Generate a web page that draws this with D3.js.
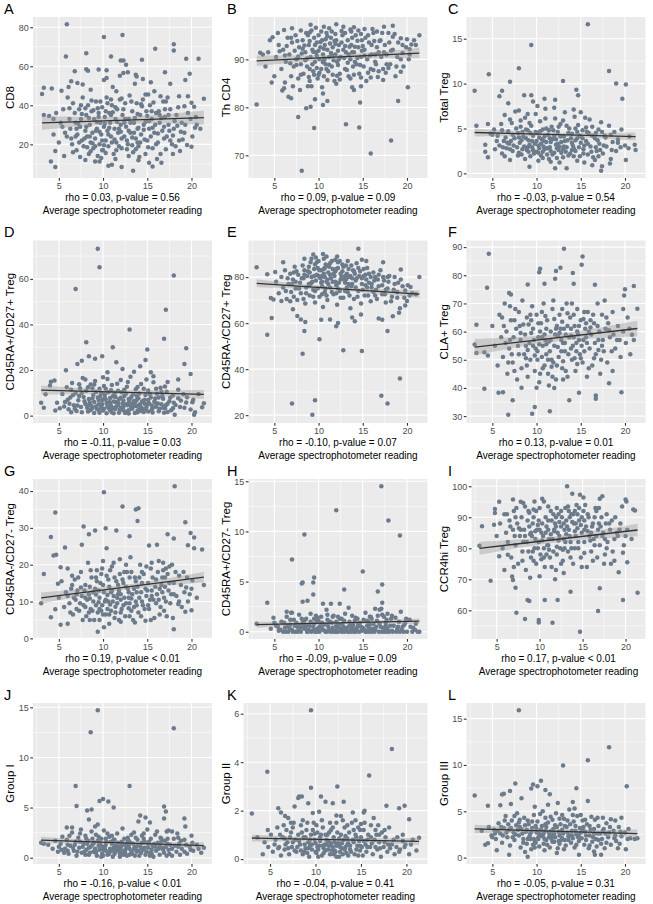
<!DOCTYPE html>
<html><head><meta charset="utf-8">
<script src="https://cdn.jsdelivr.net/npm/d3@7"></script>
<style>body{margin:0;background:#fff}svg{display:block}text{font-family:"Liberation Sans",Arial,sans-serif}</style>
</head><body>
<script>
const panelTags=["A","B","C","D","E","F","G","H","I","J","K","L"];
const yTitles=["CD8","Th CD4","Total Treg","CD45RA+/CD27+ Treg","CD45RA-/CD27+ Treg","CLA+ Treg","CD45RA-/CD27- Treg","CD45RA+/CD27- Treg","CCR4hi Treg","Group I","Group II","Group III"];
const statLabels=["rho = 0.03, p-value = 0.56","rho = 0.09, p-value = 0.09","rho = -0.03, p-value = 0.54","rho = -0.11, p-value = 0.03","rho = -0.10, p-value = 0.07","rho = 0.13, p-value = 0.01","rho = 0.19, p-value < 0.01","rho = -0.09, p-value = 0.09","rho = 0.17, p-value < 0.01","rho = -0.16, p-value < 0.01","rho = -0.04, p-value = 0.41","rho = -0.05, p-value = 0.31"];
const xTitle="Average spectrophotometer reading";
const xTicks=[5,10,15,20];
const yTicks=[[20,40,60,80],[70,80,90],[0,5,10,15],[0,20,40,60],[20,40,60,80],[30,40,50,60,70,80,90],[0,10,20,30,40],[0,5,10,15],[60,70,80,90,100],[0,5,10,15],[0,2,4,6],[0,5,10,15]];
// fitted line value at the lowest and highest reading, CI half-width at centre and at ends
const fitY0=[31.0,89.7,4.55,11.2,77.3,54.5,11.0,0.7,80.0,1.75,0.87,3.1];
const fitY1=[33.7,91.3,4.1,9.3,72.6,61.1,16.6,1.05,85.9,1.2,0.73,2.58];
const bandMid=[1.8,0.5,0.22,1.0,0.8,1.3,0.7,0.14,1.0,0.16,0.07,0.22];
const bandEnd=[3.6,1.1,0.45,2.0,1.7,2.9,1.5,0.3,2.1,0.34,0.15,0.46];

const pointsA=[[5.9,81.5],[10.1,75],[12.2,76],[18.0,71.3],[18.0,68.1],[15.9,69],[5.8,65],[10.9,65],[8.1,66.7],[20.8,63.8],[19.4,63.8],[14.4,63.3],[12.0,63],[12.3,63],[12.6,60.8],[19.8,56.2],[19.3,53],[6.8,57.4],[8.1,58.5],[8.3,57.7],[9.5,58.3],[10.4,58],[11.9,55.2],[12.3,56.5],[12.8,56.9],[13.7,55.7],[13.8,54.8],[14.5,53.5],[15.4,51.8],[17.0,56.9],[17.6,51],[4.2,48.6],[3.1,45.8],[3.3,49],[5.3,47.5],[6.4,52.3],[6.1,49.4],[7.1,51.4],[7.7,50.6],[8.6,48],[10.1,53],[10.4,54],[11.1,49.4],[11.5,47.2],[13.6,51],[14.8,45.5],[15.1,45.5],[15.8,47.2],[16.5,44.6],[17.1,42],[18.6,44.6],[19.6,44.6],[21.4,43.4],[20.0,41.3],[20.3,39.2],[19.2,39.5],
[4.1,11.2],[4.6,8.4],[4.6,16.6],[5.6,14],[9.6,11.2],[9.1,11.2],[10.6,9],[11.0,9.5],[12.1,8.4],[13.4,6.5],[14.0,11.8],[15.2,10.6],[15.6,8.6],[16.6,10.6],[17.9,15],[18.7,16.6],[19.5,19.7],[20.0,18.8],[20.4,28.5],
[3.3,35],[3.9,34.5],[4.4,33],[4.7,36],[5.0,21],[5.2,31],[5.5,38],[5.7,26],[5.9,24],[6.0,44],[6.2,33],[6.3,28],[6.5,20],[6.6,41],[6.8,36],[6.9,31],[7.0,17],[7.1,25],[7.3,38],[7.4,29],[7.5,33],[7.6,22],[7.7,44],[7.8,19],[8.0,27],[8.1,35],[8.2,24],[8.3,40],[8.4,15],[8.5,30],[8.6,21],[8.7,37],[8.8,26],[8.9,18],[9.0,33],[9.1,23],[9.2,42],[9.3,28],[9.4,14],[9.5,36],[9.6,20],[9.7,31],[9.8,25],[9.9,39],[10.0,17],[10.1,29],[10.2,34],[10.3,22],[10.4,44],[10.5,27],[10.6,19],[10.7,36],[10.8,31],[10.9,24],[11.0,40],[11.2,15],[11.3,28],[11.4,33],[11.5,21],[11.6,38],[11.7,26],[11.9,43],[12.0,30],[12.1,18],[12.2,35],[12.4,24],[12.5,41],[12.6,29],[12.8,20],[12.9,33],[13.0,45],[13.1,26],[13.3,37],[13.4,16],[13.5,31],[13.7,23],[13.8,41],[13.9,28],[14.0,19],[14.2,35],[14.3,25],[14.5,43],[14.6,30],[14.8,15],[14.9,37],[15.0,22],[15.2,28],[15.3,40],[15.5,33],[15.6,18],[15.8,26],[16.0,36],[16.2,21],[16.4,31],[16.5,15],[16.7,27],[16.8,42],[17.0,34],[17.2,24],[17.4,30],[17.6,38],[17.8,20],[18.0,28],[18.3,35],[18.6,22],[18.9,31],[19.2,26],[19.6,36],[20.1,24],[20.6,30],[21.0,28],
[7.2,30.5],[7.9,23],[8.4,33.5],[8.8,20.5],[9.2,27],[9.5,34],[9.9,22],[10.2,30.5],[10.6,25],[10.9,35],[11.3,22.5],[11.6,31.5],[12.0,26.5],[12.3,38],[12.7,22],[13.1,31],[13.5,26],[13.9,35.5],[14.2,21],[14.6,27.5],[15.0,34.5],[15.4,24],[15.9,30],[16.3,37],[16.9,23],[17.5,27],[18.1,32],[18.8,26.5],[6.2,38.5],[6.9,24],[7.5,40],[8.2,18.5],[8.7,42.5],[9.4,38.5],[10.1,19.5],[10.5,41],[11.1,36.5],[11.8,19],[12.5,33],[13.2,42],[13.7,17.5],[14.4,39.5],[15.1,18.5],[15.7,41.5],[16.6,33.5],[17.3,44],[18.5,39],[19.9,33],[5.4,29],[6.6,16],[7.4,13.5],[8.0,12],[9.8,13],[11.4,12.5],[12.9,14],[14.1,13.5],[16.1,12.5],[17.1,17.5],[19.0,22.5],[4.4,25],
[7.0,28],[7.6,35.5],[8.1,29],[8.5,24],[8.9,37.5],[9.3,31.5],[9.6,26.5],[9.9,17],[10.3,37],[10.7,28.5],[11.0,21],[11.4,39],[11.8,28],[12.1,23],[12.4,31],[12.9,27],[13.3,19.5],[13.6,33.5],[14.0,28.5],[14.3,40.5],[14.7,22.5],[15.2,32],[15.6,28.5],[16.0,20],[16.4,35],[16.9,29],[17.4,35],[17.9,24.5],[18.4,29.5],[19.3,30],[6.4,23],[7.3,21],[8.0,38.5],[8.6,16.5],[9.1,19],[9.7,42],[10.3,15.5],[10.9,43],[11.5,17],[12.1,43.5],[12.7,17.5],[13.3,23.5],[13.9,21],[14.8,31.5],[15.5,37],[16.2,25.5],[17.0,38],[17.6,22],[18.2,19],[20.5,34]];

const pointsB=[[8.1,66.8],[15.9,70.4],[18.2,73.1],[9.5,75.7],[13.1,76.5],[14.6,75.8],[7.7,78],[3.0,80.6],[8.6,79.8],[9.1,80.1],[10.5,80.5],[11.0,81.3],[9.6,81.7],[14.7,81],[19.0,81.3],[20.1,84.2],[4.7,85.2],[5.9,83.5],[6.1,84],[6.2,85.2],[6.6,82.2],[6.9,81.9],[7.1,84.4],[7.9,83.6],[8.8,84.4],[9.2,84.4],[10.5,82.9],[10.4,84.2],[12.0,84.9],[13.8,84.2],[14.0,83.6],[14.8,84.4],[15.9,86.2],[16.7,86.3],[17.3,85.7],[18.8,88.5],[19.3,87.4],[4.0,88.5],[3.4,91.4],[4.5,94.0],[4.8,94.6],[5.6,91.7],[6.1,96.1],[9.1,97.2],[12.0,97.3],[12.8,96.8],[15.2,96.3],[16.1,96.3],[17.4,96.8],[18.4,97],[18.4,94.7],[19.3,94.4],[20.0,94.2],[20.5,93.1],[21.0,93],[21.4,95],[20.3,92.1],[19.5,91.3],
[5.2,90.5],[5.5,93],[5.8,88],[6.0,92],[6.3,89.5],[6.5,94.5],[6.7,91],[6.9,86.5],[7.0,93.5],[7.2,88.5],[7.4,95],[7.5,90],[7.7,86],[7.8,92.5],[8.0,89],[8.2,94],[8.3,87],[8.5,91.5],[8.6,95.5],[8.7,88.5],[8.9,93],[9.0,85.5],[9.1,90.5],[9.2,96],[9.3,92],[9.4,87.5],[9.5,94.5],[9.6,89.5],[9.7,91.5],[9.8,93.5],[9.9,86],[10.0,95],[10.1,90],[10.2,92.5],[10.3,88],[10.4,94],[10.5,91],[10.6,86.5],[10.7,93],[10.8,89],[10.9,95.5],[11.0,92],[11.1,87.5],[11.2,90.5],[11.4,94.5],[11.5,88.5],[11.6,92.5],[11.8,85.5],[11.9,91],[12.0,94],[12.1,89.5],[12.3,93],[12.4,87],[12.5,90.5],[12.7,95],[12.8,92],[13.0,88],[13.1,91.5],[13.3,94],[13.4,86.5],[13.6,90],[13.7,93],[13.9,88.5],[14.0,91.5],[14.2,95],[14.3,89],[14.5,92.5],[14.6,87],[14.8,90.5],[14.9,94],[15.1,88.5],[15.2,92],[15.4,85.5],[15.5,90],[15.7,93.5],[15.9,88],[16.0,91],[16.2,95.5],[16.4,89.5],[16.6,92.5],[16.8,87.5],[17.0,94],[17.1,90.5],[17.3,88],[17.5,93],[17.7,91],[17.9,95.5],[18.1,89],[18.4,92],[18.7,86.5],[19.0,93.5],[19.3,90],[19.6,88.5],[19.9,92.5],[20.3,91],[5.0,86.5],[4.3,91.5],[3.7,91],[9.0,93.8],[10.6,92.2],[11.3,93.3],[12.2,91.8],[13.5,92.6],[8.4,92.9],[9.8,90.8],[11.7,89.8],[14.4,93.9],
[7.6,93.8],[8.1,91.2],[8.8,95],[9.3,89],[9.6,93],[10.0,91.8],[10.3,95.8],[10.7,90.2],[11.0,94.8],[11.4,91.3],[11.8,93.8],[12.2,88.8],[12.6,93.5],[13.0,95.5],[13.4,91],[13.8,94.5],[14.1,89.5],[14.5,96],[14.9,91.8],[15.3,94.5],[15.8,90.8],[16.3,93.8],[16.8,91.5],[17.2,95.5],[17.7,89],[18.2,91.8],[6.4,92.8],[6.8,89.2],[7.3,91.8],[8.0,86.8],[8.5,89.8],[9.0,88],[9.5,86.8],[10.1,87.2],[10.9,88],[11.6,86.8],[12.4,85.8],[13.2,87.8],[14.0,86.8],[14.7,88.8],[15.6,87.2],[16.5,89],[17.6,87.2],[18.9,90.5],[20.8,94],[5.4,95.5],[7.0,96.5],[8.0,96],[10.6,96.8],[13.6,96.2],[11.2,96.5],
[6.2,90.8],[6.9,94.5],[7.5,88.8],[8.2,92.2],[8.7,90.2],[9.0,95.6],[9.4,91.6],[9.8,88.2],[10.2,93.6],[10.5,89.4],[10.8,94.2],[11.2,88.9],[11.5,95.8],[11.9,93.2],[12.3,90],[12.6,95.9],[13.0,92.8],[13.3,89.3],[13.7,95.8],[14.1,92.6],[14.4,90.3],[14.8,95.3],[15.2,90.8],[15.6,95],[16.0,93],[16.4,91],[16.9,93.8],[17.4,91.5],[18.0,93.5],[18.6,95.3],[19.5,93],[20.2,90],[7.7,90.6],[8.9,86.3],[10.0,86.8],[11.0,85.7],[12.1,86.6],[13.6,86],[14.8,86.2],[16.2,87.8],[17.9,88.2],[9.7,96.6],[11.9,95.3],[14.0,96.7],[16.6,95.8],[12.9,90.3],[11.6,90.8],[10.6,89.8],[13.8,91.5],[15.0,92.8]];

const pointsC=[[15.8,16.6],[9.4,14.3],[8.0,11.7],[4.6,11.05],[18.2,11.4],[13.0,10.3],[7.0,10.2],[19.0,10],[20.1,9.9],[3.0,9.2],[6.1,9.2],[14.5,9.3],[9.4,8.7],[8.6,8.7],[5.8,8.6],[19.7,8.3],[9.6,8.0],[10.9,8.3],[14.7,8.7],[6.8,7.8],[12.1,8.2],[3.2,5.3],[4.5,5.5],[4.2,3.2],[4.2,2.4],[4.5,1.8],[9.2,0.75],[12.1,0.56],[13.4,0.56],[17.4,0.8],[17.3,0.3],[18.4,1.6],[18.3,1.1],[20.1,1.5],[21.1,3.2],[21.2,2.6],[20.5,4.1],[19.2,3.4],[19.5,2.9],[16.3,0.9],
[4.8,4.4],[5.0,4.3],[5.3,2.7],[5.6,4.2],[5.8,3.1],[6.0,5.5],[6.1,2.2],[6.3,3.6],[6.4,6.5],[6.6,2.8],[6.8,4.7],[6.9,3.3],[7.0,1.5],[7.2,5.6],[7.3,2.5],[7.5,3.9],[7.6,6.9],[7.8,2.9],[7.9,4.5],[8.1,3.4],[8.2,5.9],[8.3,2.1],[8.5,4.1],[8.6,3.0],[8.7,6.2],[8.9,2.6],[9.0,4.8],[9.1,3.7],[9.3,1.9],[9.4,5.3],[9.5,2.9],[9.6,4.2],[9.8,3.3],[9.9,6.6],[10.0,2.4],[10.1,4.5],[10.2,3.1],[10.4,5.8],[10.5,2.0],[10.6,3.8],[10.7,4.9],[10.9,2.7],[11.0,7.2],[11.1,3.5],[11.3,4.3],[11.4,1.6],[11.5,2.9],[11.7,5.2],[11.8,3.8],[12.0,2.3],[12.1,6.1],[12.2,3.2],[12.4,4.6],[12.5,2.6],[12.7,5.5],[12.8,3.5],[13.0,1.8],[13.1,4.1],[13.2,6.8],[13.4,2.9],[13.5,3.7],[13.7,5.0],[13.8,2.2],[14.0,4.4],[14.1,3.1],[14.3,6.3],[14.4,2.5],[14.6,3.9],[14.7,5.4],[14.9,1.9],[15.0,3.4],[15.2,4.8],[15.3,2.7],[15.5,6.2],[15.6,3.6],[15.8,2.1],[15.9,4.5],[16.1,3.0],[16.3,5.2],[16.4,1.8],[16.6,3.9],[16.8,2.5],[17.0,4.9],[17.1,3.3],[17.3,5.7],[17.5,2.2],[17.7,4.2],[17.9,3.0],[18.2,5.3],[18.5,2.6],[18.8,4.6],[19.2,3.8],[19.6,4.9],[20.0,3.1],[20.4,2.8],[9.7,2.2],[10.8,3.0],[11.6,2.5],[12.6,3.0],[13.3,2.4],[8.4,2.7],[9.2,3.2],[10.3,2.8],[11.2,2.1],[12.3,1.7],[14.2,2.8],[7.4,3.1],
[6.5,4.0],[7.1,3.6],[7.7,5.0],[8.0,2.3],[8.4,4.6],[8.8,3.9],[9.2,5.6],[9.6,2.6],[10.0,3.6],[10.3,4.0],[10.7,2.4],[11.1,5.0],[11.5,3.9],[11.9,4.8],[12.3,2.8],[12.7,4.1],[13.1,3.0],[13.6,4.5],[14.0,3.4],[14.4,5.0],[14.8,2.9],[15.2,3.9],[15.7,4.6],[16.2,2.4],[16.7,4.5],[17.2,2.6],[17.8,4.0],[18.6,3.5],[5.5,3.6],[6.2,2.9],[7.0,6.0],[8.0,7.0],[9.0,6.6],[10.1,7.5],[11.0,6.1],[12.0,7.3],[13.0,5.9],[14.2,7.1],[15.0,6.8],[16.0,6.0],[11.6,1.3],[12.6,1.2],[14.6,1.4],[15.4,1.2],[10.2,1.4],[8.7,1.6],[16.6,1.5],[17.0,1.9],[6.4,1.9],[5.2,4.9],
[6.7,3.4],[7.3,4.3],[7.9,2.0],[8.3,3.7],[8.8,4.9],[9.1,2.4],[9.5,3.6],[9.9,4.6],[10.2,2.3],[10.5,3.3],[10.9,4.1],[11.2,2.8],[11.6,3.5],[12.0,4.2],[12.4,3.3],[12.8,2.3],[13.2,3.6],[13.6,2.0],[14.0,2.6],[14.4,3.7],[14.9,4.2],[15.3,2.2],[15.8,3.3],[16.3,4.2],[16.9,3.7],[17.6,3.1],[18.4,4.3],[6.1,4.8],[7.0,2.7],[8.2,5.2],[9.3,4.5],[10.4,4.7],[11.4,4.8],[12.5,5.2],[13.4,5.3],[14.6,4.6],[15.6,5.1],[10.7,1.7],[11.8,2.1],[13.0,2.7],[14.2,1.9],[9.0,2.9],[8.0,4.0],[12.2,3.8],[13.9,3.9],[10.8,3.6],[15.4,3.1],[16.7,2.9],[17.4,4.6],[19.0,2.5]];

const pointsD=[[9.4,73.2],[9.6,65.1],[18.0,61.5],[6.9,55.6],[17.1,46.5],[13.0,37.8],[16.9,33.7],[8.1,32.2],[11.1,30],[19.4,29.6],[15.0,29],[8.4,26],[9.9,26],[9.1,24.9],[7.6,24.1],[14.8,24.4],[19.2,22.7],[7.1,22.7],[19.9,18.3],[11.5,23.4],[14.2,21.7],[12.2,20.5],[5.8,19.9],[18.5,15.8],[4.1,14.9],[4.5,15.4],[4.0,13.2],[3.0,5.6],[3.3,3.5],[4.6,2.2],[20.4,1.5],[20.3,0.4],[18.1,0.4],[21.4,5.4],[21.2,3.7],[20.1,5.9],[15.4,19],[15.7,17.3],[13.5,19.3],[10.5,19],
[4.8,5.6],[5.1,3.2],[5.4,9.5],[5.7,6.0],[5.9,12.5],[6.1,2.8],[6.3,7.9],[6.5,14.3],[6.7,4.6],[6.9,9.8],[7.0,2.0],[7.2,6.7],[7.4,12.0],[7.5,3.8],[7.7,16.5],[7.8,8.2],[8.0,5.1],[8.1,10.9],[8.3,1.8],[8.4,7.3],[8.6,13.6],[8.7,4.2],[8.9,9.1],[9.0,6.0],[9.1,15.2],[9.3,2.9],[9.4,8.0],[9.6,11.8],[9.7,4.9],[9.9,6.8],[10.0,2.2],[10.1,13.0],[10.2,9.3],[10.4,5.5],[10.5,16.1],[10.6,3.4],[10.8,7.7],[10.9,11.1],[11.0,1.5],[11.2,6.2],[11.3,9.8],[11.5,4.0],[11.6,14.0],[11.8,7.2],[11.9,2.6],[12.1,10.3],[12.2,5.3],[12.4,8.6],[12.5,1.2],[12.7,12.7],[12.8,4.5],[13.0,6.9],[13.1,17.0],[13.3,3.0],[13.4,9.4],[13.6,5.8],[13.7,11.6],[13.9,2.1],[14.0,7.6],[14.2,4.3],[14.3,13.9],[14.5,6.4],[14.6,1.6],[14.8,9.1],[14.9,3.6],[15.1,11.0],[15.2,5.4],[15.4,7.9],[15.5,2.5],[15.7,14.6],[15.8,6.1],[16.0,3.9],[16.1,9.6],[16.3,1.9],[16.5,12.2],[16.6,5.0],[16.8,7.4],[17.0,3.2],[17.2,10.5],[17.3,14.8],[17.5,6.3],[17.7,2.4],[17.9,8.8],[18.2,4.7],[18.5,11.4],[18.8,6.6],[19.2,3.5],[19.5,8.1],[19.9,2.7],[20.2,7.0],[20.8,9.5],[3.5,9.4],[9.8,3.6],[10.7,5.9],[11.4,2.9],[12.3,3.8],[13.2,5.1],[14.1,2.7],[8.8,3.3],[9.5,5.0],[11.7,4.8],[12.9,2.3],[13.8,4.1],[14.7,5.2],
[6.0,7.0],[6.6,9.0],[7.1,4.4],[7.6,10.0],[8.2,3.4],[8.5,5.8],[8.8,11.9],[9.2,4.0],[9.5,6.9],[9.8,9.9],[10.1,3.0],[10.3,7.1],[10.6,10.3],[10.9,4.3],[11.1,8.5],[11.4,6.0],[11.7,10.9],[12.0,3.5],[12.3,6.6],[12.6,9.6],[12.9,5.5],[13.2,8.2],[13.5,4.2],[13.8,6.9],[14.1,9.7],[14.4,3.2],[14.7,7.0],[15.0,4.9],[15.3,9.4],[15.6,3.3],[15.9,7.5],[16.2,5.3],[16.7,8.7],[17.1,4.5],[17.6,7.9],[18.0,5.7],[18.7,3.8],[19.4,5.8],[6.4,11.3],[7.3,13.8],[8.0,15.8],[9.0,13.6],[10.0,16.8],[11.0,13.4],[12.0,15.6],[12.8,14.8],[13.9,12.6],[14.9,15.8],[16.0,11.8],[17.0,12.8],[11.2,1.0],[12.7,1.8],[13.6,1.2],[14.3,2.0],[10.8,2.3],[9.6,1.3],[15.1,1.8],[16.4,3.0],[17.3,1.6],[8.6,2.5],
[5.6,4.0],[6.2,5.2],[6.8,3.0],[7.3,8.6],[7.9,6.3],[8.4,4.5],[8.8,7.5],[9.2,10.4],[9.5,2.5],[9.9,5.0],[10.2,7.8],[10.5,4.1],[10.8,5.8],[11.1,3.3],[11.4,8.2],[11.7,5.6],[12.0,7.8],[12.3,2.2],[12.6,5.0],[12.9,7.3],[13.2,3.6],[13.5,6.4],[13.8,8.7],[14.1,4.9],[14.4,6.1],[14.8,2.9],[15.1,6.8],[15.5,4.4],[15.9,5.7],[16.3,8.0],[16.8,3.5],[17.3,5.2],[17.9,3.2],[18.5,7.6],[19.1,9.4],[6.4,1.5],[7.6,1.5],[9.0,1.1],[10.4,1.0],[11.8,1.3],[12.9,0.9],[13.9,1.5],[15.6,1.4],[16.9,1.3],[8.3,12.5],[10.3,11.8],[12.4,11.4],[14.6,11.8],[16.6,10.5],[9.7,8.6]];

const pointsE=[[9.3,20.2],[9.6,26.5],[7.0,25.1],[17.1,28.4],[17.8,25.1],[19.2,35.9],[8.2,46.7],[12.8,48.2],[14.9,47.9],[10.1,53],[4.2,55],[17.8,56.6],[8.4,56.6],[4.7,62.2],[8.0,61.6],[8.5,60.5],[10.3,61.5],[12.0,58.6],[12.2,60],[11.3,61.6],[13.8,62.4],[14.1,60.8],[14.8,63.7],[16.8,62],[17.2,61.5],[18.4,63],[19.2,66.5],[19.1,64.5],[14.5,92.3],[9.4,89.8],[14.9,87.5],[15.4,87],[17.3,86.5],[3.0,84.3],[4.2,81.2],[5.1,82.2],[6.0,86.5],[19.3,83.3],[21.4,80],[20.4,75.7],[19.8,74.2],[4.6,70.9],[4.9,70.3],[5.8,69.6],[6.8,69.5],[7.1,66],[7.6,63.1],[20.0,69.6],[19.8,67.7],
[5.2,78],[5.5,73],[5.8,80],[6.0,75.5],[6.2,83],[6.4,70.5],[6.6,77],[6.8,81.5],[6.9,73.5],[7.1,79],[7.3,84.5],[7.4,75],[7.6,70],[7.7,81],[7.9,77.5],[8.0,73],[8.2,85],[8.3,79.5],[8.5,68.5],[8.6,75.5],[8.8,82.5],[8.9,77],[9.0,72],[9.1,86.5],[9.2,80],[9.4,74.5],[9.5,83.5],[9.6,69],[9.7,78.5],[9.8,81],[9.9,75],[10.0,87],[10.1,71.5],[10.2,79.5],[10.3,83],[10.4,76],[10.5,67],[10.6,81.5],[10.7,73.5],[10.8,85.5],[10.9,78],[11.0,70],[11.1,82],[11.3,75.5],[11.4,79.5],[11.5,87],[11.7,72.5],[11.8,80.5],[12.0,76.5],[12.1,68],[12.2,84],[12.4,74],[12.5,79],[12.7,82.5],[12.8,71],[13.0,77.5],[13.1,85],[13.3,73.5],[13.4,80],[13.6,66.5],[13.7,76],[13.9,83],[14.0,70.5],[14.2,78.5],[14.3,86],[14.5,74],[14.6,80.5],[14.8,68.5],[14.9,77],[15.1,83.5],[15.2,72],[15.4,79],[15.5,75.5],[15.7,81.5],[15.9,69.5],[16.0,77],[16.2,73.5],[16.4,80],[16.6,70.5],[16.8,76],[17.0,83],[17.2,72.5],[17.4,78.5],[17.6,69],[17.8,75],[18.0,80.5],[18.3,71.5],[18.6,77],[18.9,73.5],[19.3,79],[19.7,71],[20.1,76.5],[20.6,73],[21.0,72.5],[9.0,82],[9.9,84],[10.6,83.5],[11.2,84.5],[11.9,82.5],[12.6,80],[13.2,81.5],[10.4,80.5],[11.6,78],[12.9,79],[13.8,79.5],[8.4,83],
[7.0,77],[7.5,82.5],[8.1,79.5],[8.7,80.5],[9.3,78],[9.6,85.5],[10.0,80.5],[10.3,77.5],[10.7,84],[11.0,79],[11.3,86],[11.7,81.5],[12.0,83.5],[12.3,77.5],[12.7,85.5],[13.0,80.5],[13.4,83.5],[13.8,77],[14.1,81.5],[14.5,84],[14.9,79.5],[15.3,81],[15.7,77.5],[16.2,82],[16.7,79],[17.2,76.5],[17.8,80],[18.5,74.5],[19.0,77.5],[6.3,74],[7.2,71.5],[8.3,70.5],[9.4,71.5],[10.4,72.5],[11.5,73.5],[12.5,71],[13.5,72],[14.4,71.5],[15.6,72],[16.5,74.5],[17.5,72.5],[18.2,69.5],[9.0,76.5],[10.8,75],[12.2,75],[13.2,75.5],[15.0,74.5],[16.0,75.5],[8.4,88],[9.7,88.5],[10.6,88],[11.9,87.5],[13.3,87],[10.5,90],[12.1,89],
[6.5,79.5],[7.2,82],[7.8,75],[8.4,81],[8.9,84.5],[9.2,77.5],[9.5,80.5],[9.8,86.5],[10.1,83],[10.4,78],[10.7,80],[11.0,85],[11.3,81],[11.6,83.5],[11.9,78],[12.2,86.5],[12.5,81.5],[12.8,84.5],[13.1,79],[13.4,77],[13.7,85],[14.0,82.5],[14.3,79.5],[14.7,82.5],[15.1,80.5],[15.5,84],[15.9,80],[16.3,78.5],[16.8,81],[17.3,80],[17.9,78],[18.6,80],[19.5,76],[7.4,78],[8.6,73],[9.6,74],[10.9,72],[12.0,73],[13.0,74],[14.2,75.5],[15.3,76.5],[16.4,72],[17.6,74.5],[18.9,71],[20.3,72],[9.2,88],[10.9,89],[12.4,87],[11.1,77],[13.6,80.5]];

const pointsF=[[13.1,89.4],[4.6,87.6],[15.2,86.7],[15.1,83.7],[10.4,82.3],[12.7,82.7],[12.2,81.5],[10.3,81.1],[14.1,80.8],[12.1,78.8],[4.4,75.6],[20.0,75],[21.0,76.2],[19.9,72.8],[16.6,76.6],[10.9,77],[14.2,77],[9.0,76.7],[6.9,73.7],[7.1,73.2],[3.2,62.4],[3.0,55.4],[3.2,52.4],[4.1,52.7],[4.5,51.5],[4.1,39.7],[5.7,38.3],[6.2,38.5],[6.8,30.5],[9.5,30.8],[9.8,33.2],[11.5,31.7],[7.3,35.6],[8.3,40.1],[10.0,40.1],[11.4,40.9],[13.7,35.6],[14.8,38.3],[16.7,37.3],[16.7,36.2],[18.2,41.7],[19.6,38.5],[20.8,58.9],[21.4,68.1],
[5.0,62],[5.3,55],[5.6,48],[5.8,66],[6.0,58],[6.2,51],[6.4,70],[6.6,60],[6.7,45],[6.9,54],[7.1,64],[7.3,49],[7.4,58],[7.6,68],[7.8,43],[7.9,55],[8.1,62],[8.3,47],[8.4,71],[8.6,52],[8.7,59],[8.9,65],[9.0,44],[9.2,56],[9.3,50],[9.5,69],[9.6,61],[9.8,46],[9.9,54],[10.0,66],[10.2,58],[10.3,42],[10.5,63],[10.6,51],[10.8,70],[10.9,48],[11.0,57],[11.2,64],[11.3,45],[11.5,53],[11.6,60],[11.8,68],[11.9,49],[12.0,55],[12.2,43],[12.3,62],[12.5,51],[12.6,66],[12.8,57],[12.9,47],[13.1,61],[13.2,53],[13.4,70],[13.5,44],[13.7,58],[13.8,65],[14.0,50],[14.1,55],[14.3,62],[14.4,46],[14.6,68],[14.7,59],[14.9,52],[15.0,64],[15.2,49],[15.3,57],[15.5,61],[15.7,44],[15.8,67],[16.0,54],[16.2,59],[16.3,48],[16.5,63],[16.7,52],[16.9,70],[17.0,57],[17.2,45],[17.4,66],[17.6,53],[17.8,61],[18.0,49],[18.3,58],[18.6,67],[18.9,54],[19.2,62],[19.5,51],[19.8,68],[20.1,56],[20.5,61],[21.0,57],[9.4,59.5],[10.7,47],[11.1,52],[12.4,58.5],[13.0,49.5],[14.5,56],[15.4,53],[10.1,50],[11.7,47.5],[8.8,50.5],
[6.5,56],[7.2,52],[7.7,61],[8.2,57],[8.8,55],[9.1,62.5],[9.7,57],[10.1,53],[10.4,60],[10.7,55],[11.1,61],[11.4,56.5],[11.7,50],[12.1,59],[12.4,54.5],[12.7,61],[13.0,56],[13.3,59],[13.6,52],[13.9,61],[14.2,58],[14.5,53],[14.8,62],[15.1,55],[15.6,58],[16.1,61.5],[16.6,56],[17.1,60],[17.5,57],[18.1,63],[18.7,59],[19.4,57],[20.3,65],[6.1,65],[7.0,69],[8.0,67],[9.3,66],[10.6,67],[11.9,71],[12.9,68],[14.0,70],[15.4,67],[16.4,66],[17.7,71],[7.5,46],[8.9,48],[10.4,45],[11.8,44],[13.3,46],[14.6,48.5],[15.9,47],[17.3,50],[18.6,46],[12.0,40],[13.0,43],
[6.3,62],[6.8,49],[7.5,64],[8.0,52],[8.5,62.5],[9.0,53.5],[9.4,64],[9.8,51.5],[10.2,63],[10.6,58],[11.0,65.5],[11.3,50],[11.6,57],[12.0,64.5],[12.3,48],[12.6,59.5],[12.9,63.5],[13.2,56],[13.5,62],[13.9,54],[14.2,66],[14.6,60],[15.0,50.5],[15.3,64.5],[15.7,56],[16.1,64],[16.5,50.5],[16.9,62],[17.4,55],[17.9,65],[18.5,53],[19.1,57],[19.8,60],[8.2,59.5],[9.6,55],[10.9,59],[12.2,61],[13.5,66.5],[14.8,57],[15.9,60],[17.0,53.5],[18.2,60.5],[20.6,52],[7.0,57],[11.1,55.5],[12.8,53],[14.3,50.5],[10.3,55.5],[13.9,58.5],[15.6,63]];

const pointsG=[[18.1,41.3],[10.1,39.7],[12.2,35.8],[13.7,35],[14.0,35.3],[4.6,34.2],[13.9,31.9],[19.3,31.5],[7.8,30.4],[9.1,29.3],[10.3,29.9],[11.5,29.3],[19.9,28.6],[13.0,27.7],[4.1,27.5],[17.3,28.3],[18.0,27.1],[20.3,27.4],[8.4,28.3],[7.6,25.4],[5.7,24.7],[10.4,24.5],[19.6,25.3],[21.2,24.1],[20.3,24.5],[4.4,22.5],[4.7,22.7],[16.1,25.4],[15.2,25.2],[3.3,17.5],[3.0,9.5],[4.1,5.7],[5.2,3.7],[6.0,4.0],[9.4,1.8],[10.1,3.0],[18.0,2.5],[4.6,7.9],[4.9,14.8],[5.2,19.3],[21.4,14.5],[19.3,7.2],[20.0,7.6],[18.5,9.3],[20.1,15.7],[19.4,13.8],
[5.0,11],[5.3,15.5],[5.6,8.5],[5.8,12.5],[6.0,19],[6.2,9.5],[6.4,13.5],[6.6,6.5],[6.8,16],[6.9,10.5],[7.1,13],[7.3,7.5],[7.5,18],[7.6,11.5],[7.8,9],[8.0,14.5],[8.1,6],[8.3,20.5],[8.4,12],[8.6,8],[8.7,16.5],[8.9,10],[9.0,5],[9.1,13.5],[9.3,18.5],[9.4,7],[9.6,11],[9.7,15],[9.9,9],[10.0,21],[10.1,12.5],[10.3,6.5],[10.4,17],[10.6,10],[10.7,14],[10.9,7.5],[11.0,19.5],[11.2,11.5],[11.3,5.5],[11.5,15.5],[11.6,9.5],[11.8,13],[11.9,21.5],[12.1,8],[12.2,16],[12.4,11],[12.5,6],[12.7,18],[12.8,13.5],[13.0,9.5],[13.1,22],[13.3,12],[13.4,5],[13.6,16.5],[13.7,10],[13.9,14],[14.0,7],[14.2,20],[14.3,12.5],[14.5,9],[14.6,17.5],[14.8,4.8],[14.9,11.5],[15.1,15],[15.2,8],[15.4,19],[15.5,13],[15.7,10.5],[15.8,5.5],[16.0,16],[16.1,12],[16.3,21],[16.5,8.5],[16.6,14.5],[16.8,18.5],[16.9,11],[17.0,16.5],[17.1,19],[17.2,6],[17.4,13],[17.6,9.5],[17.8,20],[18.0,15],[18.3,11.5],[18.6,17],[18.9,8.5],[19.2,12.5],[19.6,10],[20.0,13.5],[20.6,11],[9.5,9.8],[10.5,11.8],[11.4,8.6],[12.0,10.5],[12.9,8.2],[8.5,10.8],[9.2,11.9],[10.8,9.2],[11.7,12],[13.2,10.8],
[7.0,12],[7.4,9.5],[7.9,13],[8.2,10.5],[8.5,14],[8.8,7.5],[9.2,9],[9.5,13],[9.8,7.5],[10.2,10],[10.5,8],[10.9,12.5],[11.1,10],[11.4,7],[11.7,14.5],[12.0,12],[12.3,9],[12.6,14],[12.9,11],[13.2,7.5],[13.5,13.5],[13.8,9],[14.1,11],[14.4,15],[14.7,8],[15.0,13],[15.3,10.5],[15.6,16.5],[16.0,9.5],[16.4,13.5],[16.7,16.5],[17.0,14],[17.3,17.5],[17.7,12],[18.2,18],[18.8,14.5],[19.5,16.5],[6.3,7],[6.7,11],[8.0,8.5],[9.3,15.5],[10.6,16],[11.9,17.5],[13.0,16.5],[14.4,18],[15.5,20.5],[16.8,20.5],[7.7,5],[9.6,5],[10.7,4],[12.0,4.5],[13.6,4.3],[15.4,5],[16.4,6.5],[17.9,5.5],[11.2,20.5],[12.6,20],[8.6,18.5],[9.9,19],[6.5,17],
[6.0,11.5],[6.5,14.5],[7.0,8],[7.5,13.8],[8.0,11],[8.4,7],[8.9,12.5],[9.2,16.5],[9.6,8],[10.0,14.5],[10.3,10.5],[10.7,6.5],[11.0,13],[11.3,16.5],[11.6,11],[12.0,7],[12.3,15],[12.6,9.5],[12.9,12.5],[13.2,18],[13.5,8.5],[13.8,12.5],[14.1,16.5],[14.4,10],[14.8,13.5],[15.1,9],[15.5,11.5],[15.9,14],[16.3,10.5],[16.7,12.5],[17.1,10],[17.5,15],[18.0,12],[18.6,10],[19.1,18],[19.8,12],[7.2,16.5],[8.5,5],[9.8,17.5],[10.8,18.5],[12.4,18],[13.7,15.5],[14.9,19.5],[16.2,18],[17.5,19.5],[11.8,5],[13.0,6],[14.3,6],[10.0,6.5],[16.9,7.5]];

const pointsH=[[17.1,14.5],[12.0,12.1],[17.9,11.1],[19.2,9.6],[8.4,9.7],[7.0,7.2],[15.0,6.0],[9.5,5.4],[9.4,4.9],[8.2,4.9],[8.1,4.8],[17.2,4.7],[16.7,4.0],[12.9,4.2],[4.2,2.9],[8.75,3.1],[9.4,3.7],[10.5,2.8],[12.4,2.8],[13.4,2.4],[17.2,2.9],[17.1,2.3],[16.4,2.3],[17.8,1.8],[8.2,3.0],[6.4,2.0],[7.0,1.9],[10.9,2.2],[11.6,1.5],[15.8,1.5],
[3.0,0.8],[4.6,0.3],[4.9,1.4],[5.2,0.6],[5.5,0.1],[5.8,1.0],[6.0,0],[6.2,0.4],[6.4,1.5],[6.6,0],[6.8,0.7],[7.0,0.2],[7.2,1.2],[7.4,0],[7.6,0.5],[7.8,1.7],[8.0,0],[8.2,0.9],[8.4,0.3],[8.6,1.3],[8.8,0],[9.0,0.6],[9.1,1.8],[9.3,0.1],[9.5,0.8],[9.6,0],[9.8,1.1],[10.0,0.4],[10.1,0],[10.3,1.5],[10.5,0.2],[10.6,0.7],[10.8,0],[11.0,1.2],[11.1,0.5],[11.3,0],[11.5,0.9],[11.7,1.6],[11.8,0.1],[12.0,0.6],[12.2,0],[12.4,1.3],[12.5,0.3],[12.7,0.8],[12.9,0],[13.0,1.8],[13.2,0.4],[13.4,0],[13.5,1.0],[13.7,0.2],[13.9,0.7],[14.0,0],[14.2,1.4],[14.4,0.5],[14.6,0],[14.7,0.9],[14.9,0.1],[15.1,1.2],[15.3,0],[15.5,0.6],[15.7,0.3],[15.9,1.5],[16.0,0],[16.2,0.8],[16.4,0.2],[16.6,1.1],[16.8,0],[17.0,0.5],[17.2,1.7],[17.4,0],[17.6,0.9],[17.8,0.3],[18.0,0],[18.2,1.3],[18.5,0.6],[18.8,0],[19.1,1.0],[19.4,0.2],[19.7,0.7],[20.0,0],[20.3,1.2],[20.7,0.4],[21.2,0],[21.4,0],[5.0,0.9],[6.9,1.9],[9.7,1.6],[11.4,2.8],[16.9,2.2],[15.3,1.9],[18.3,1.6],[19.3,2.0],[19.9,1.3],[9.9,0.3],[10.4,0.9],[11.2,0.2],[12.1,0.4],[12.8,0.1],[13.6,0.5],[14.3,0.2],[8.5,0.4],[7.9,0.6],[15.0,0.4],[16.1,0.3],[17.5,0.2],
[5.4,0.5],[6.1,0.9],[6.7,0.3],[7.3,0.6],[7.7,0.1],[8.3,0.7],[8.9,0.2],[9.4,0.5],[10.2,0.6],[10.7,0.1],[11.6,0.4],[12.3,0.7],[13.1,0.2],[13.8,0.4],[14.5,0.8],[15.2,0.2],[15.8,0.7],[16.5,0.5],[17.3,0.4],[18.1,0.6],[18.9,0.3],[19.6,0],[20.4,0.5],[21.0,0.8],[6.3,0],[7.1,0],[8.7,0],[9.2,0],[10.9,0],[11.9,0],[12.6,0],[13.3,0],[15.4,0],[16.3,0],[17.1,0],[18.4,0],[19.2,0],[20.6,0],[10.0,1.1],[11.3,1.0],[12.9,1.1],[14.1,1.1],[15.6,1.0],[17.7,1.2],[8.1,1.3],[9.9,1.4],[12.2,1.5],[13.8,1.6],[16.7,1.6],[18.7,1.4],
[5.7,0.2],[6.5,0.6],[7.5,0.9],[8.0,0.4],[8.6,0.6],[9.1,1.0],[9.7,0.2],[10.4,0.3],[11.0,0.7],[11.6,0.1],[12.0,1.0],[12.8,0.5],[13.5,0.6],[14.1,0.3],[14.8,0.5],[15.5,1.1],[16.2,0.1],[16.9,0.8],[17.6,0.6],[18.3,0.1],[19.0,0.5],[19.8,0.9],[6.8,1.2],[8.4,1.1],[9.5,1.3],[11.0,1.7],[12.6,1.3],[14.4,1.3],[16.0,1.3],[17.4,1.5],[7.6,0],[9.8,0],[11.6,0],[12.0,0],[13.7,0],[14.2,0],[15.7,0],[17.7,0],[19.5,0.5],[20.9,0.2]];

const pointsI=[[13.2,100],[14.7,53.1],[11.5,56],[9.9,56.9],[9.9,56.1],[8.3,57.2],[7.3,59.2],[16.8,59.8],[19.7,63.3],[8.6,63.3],[8.8,63],[10.6,63.3],[12.1,63.3],[13.6,66],[17.0,67.1],[21.4,65.7],[7.2,67.3],[4.3,69.5],[6.8,70.9],[6.9,69.8],[19.2,72.3],[20.2,75.5],[18.3,75],[19.7,78.6],[3.0,80.8],[3.3,87.1],[4.7,87.6],[4.8,91.4],[4.8,92.7],[5.3,95],[6.9,95.7],[7.8,95],[8.1,94.6],[9.4,95.1],[10.3,96],[10.5,95.1],[13.8,97.6],[14.7,97.3],[15.1,96.4],[17.3,96.8],[17.0,96],[20.0,95.7],[20.1,95.1],[20.9,92.5],[19.6,93.5],[5.3,77.4],[5.9,73],[6.3,77.9],[21.1,92.2],
[5.0,84],[5.4,88],[5.7,80],[5.9,91],[6.1,85],[6.3,82],[6.5,89],[6.7,77],[6.9,86],[7.0,92],[7.2,81],[7.4,88],[7.5,75],[7.7,84],[7.9,90],[8.0,79],[8.2,86],[8.4,73],[8.5,82],[8.7,92],[8.8,87],[9.0,77],[9.1,84],[9.3,90],[9.4,80],[9.6,75],[9.7,86],[9.9,82],[10.0,93],[10.1,78],[10.3,88],[10.4,84],[10.6,74],[10.7,90],[10.9,81],[11.0,86],[11.2,77],[11.3,92],[11.5,83],[11.6,79],[11.8,88],[11.9,73],[12.1,85],[12.2,91],[12.4,80],[12.5,87],[12.7,76],[12.8,83],[13.0,93],[13.1,89],[13.3,79],[13.4,86],[13.6,82],[13.7,91],[13.9,75],[14.0,88],[14.2,84],[14.3,94],[14.5,80],[14.6,89],[14.8,77],[14.9,85],[15.1,92],[15.2,82],[15.4,87],[15.5,74],[15.7,90],[15.8,84],[16.0,79],[16.2,88],[16.3,83],[16.5,93],[16.7,77],[16.8,86],[17.0,81],[17.2,90],[17.3,84],[17.5,75],[17.7,88],[17.9,82],[18.2,86],[18.5,79],[18.8,90],[19.1,84],[19.4,88],[19.8,81],[20.2,86],[20.7,83],[9.2,79],[10.2,76.5],[11.1,79.5],[12.3,88.5],[13.5,90],[14.4,86.5],[9.8,87.5],[8.9,84.5],[11.7,85.5],[12.9,86],
[7.1,84],[7.6,86.5],[8.1,82],[8.6,89],[9.0,85],[9.5,83],[9.9,89],[10.2,85],[10.5,80],[10.8,87],[11.1,83],[11.4,89],[11.7,86],[12.0,80.5],[12.3,84],[12.6,90],[12.9,80],[13.2,87],[13.5,84],[13.9,91],[14.2,88],[14.5,82],[14.9,90],[15.2,86],[15.6,91],[16.0,85],[16.4,90],[16.9,88],[17.4,85],[17.8,91],[18.4,89],[19.0,85],[6.2,91],[7.3,93],[8.3,93.5],[9.3,92.5],[11.0,93.5],[12.0,93],[13.3,93.5],[14.1,92],[15.3,94],[16.6,92],[7.0,74],[8.0,76],[9.3,76],[10.5,77],[11.4,74],[12.5,75],[13.6,77],[14.9,74],[16.2,76],[17.6,78],[18.7,76],[10.0,71],[11.8,70],[12.8,72],[8.9,70.5],
[6.6,87],[7.2,90],[7.8,86],[8.3,84],[8.8,91.5],[9.2,88],[9.6,92],[10.0,86],[10.3,82.5],[10.7,85],[11.0,89],[11.3,84.5],[11.6,91],[11.9,87],[12.2,82.5],[12.5,92],[12.8,88],[13.1,84.5],[13.4,92],[13.8,88.5],[14.1,85.5],[14.4,91],[14.8,87.5],[15.2,89],[15.6,85.5],[16.1,87],[16.6,84],[17.1,87],[17.6,83],[18.1,88],[18.7,83],[19.3,86],[20.0,84],[8.7,79],[9.8,80],[11.0,81],[12.0,78],[13.0,82],[14.1,80],[15.2,78.5],[16.4,81],[17.8,80],[10.8,78],[12.7,79.5],[13.7,80],[15.9,82.5],[9.5,85.5],[11.9,90],[14.6,93],[16.9,93]];

const pointsJ=[[9.4,14.7],[8.6,12.5],[18.0,12.9],[6.9,7.15],[13.0,7.15],[9.6,5.65],[10.0,5.85],[10.6,5.6],[7.0,5.15],[11.2,5.0],[16.9,5.1],[17.1,4.6],[8.2,4.7],[8.7,4.8],[14.2,4.2],[14.8,4.0],[14.0,3.6],[15.3,3.5],[16.9,3.9],[19.2,3.9],[19.3,3.1],[8.4,3.8],[9.1,3.1],[9.4,3.3],[5.9,3.0],[6.5,3.0],[20.0,2.2],[18.5,2.0],[17.4,2.7],[17.8,2.6],[3.0,1.5],[3.3,1.4],[21.4,1.0],
[3.8,1.3],[4.3,0.9],[4.6,1.7],[4.9,0.6],[5.2,1.4],[5.4,2.1],[5.7,0.9],[5.9,1.8],[6.1,0.4],[6.3,1.2],[6.5,2.5],[6.7,0.7],[6.9,1.6],[7.0,0.2],[7.2,2.0],[7.3,1.0],[7.5,2.8],[7.6,0.5],[7.8,1.4],[8.0,2.2],[8.1,0.8],[8.3,1.7],[8.4,0.3],[8.6,1.1],[8.7,2.6],[8.9,0.6],[9.0,1.5],[9.2,2.3],[9.3,0.2],[9.5,1.2],[9.6,0.8],[9.8,1.9],[9.9,0.4],[10.1,2.7],[10.2,1.0],[10.4,1.6],[10.5,0.3],[10.7,2.1],[10.8,0.9],[11.0,1.4],[11.1,0.1],[11.3,1.8],[11.4,0.6],[11.6,2.4],[11.8,1.1],[11.9,0.4],[12.1,1.6],[12.2,2.9],[12.4,0.7],[12.5,1.3],[12.7,0.2],[12.8,2.0],[13.0,0.9],[13.1,1.5],[13.3,0.4],[13.5,2.5],[13.6,1.1],[13.8,0.6],[13.9,1.8],[14.1,0.2],[14.2,1.3],[14.4,2.2],[14.5,0.8],[14.7,1.6],[14.8,0.3],[15.0,2.8],[15.1,1.0],[15.3,0.5],[15.4,1.9],[15.6,1.2],[15.7,0.1],[15.9,2.3],[16.0,0.7],[16.2,1.5],[16.4,0.3],[16.5,2.0],[16.7,1.0],[16.9,0.5],[17.0,1.7],[17.2,2.6],[17.4,0.8],[17.6,1.3],[17.8,0.2],[18.0,1.9],[18.3,0.6],[18.6,1.4],[18.9,0.9],[19.2,1.8],[19.5,0.4],[19.8,1.1],[20.2,0.7],[20.6,1.3],[21.1,0.5],[9.7,1.3],[10.3,0.7],[11.2,1.0],[12.0,0.5],[12.9,1.2],[13.7,0.8],[8.8,1.9],[10.9,1.6],[12.6,0.9],[14.3,1.0],
[5.0,1.1],[5.6,0.5],[6.0,1.3],[6.6,1.0],[7.1,0.6],[7.7,1.1],[8.2,1.4],[8.5,0.5],[9.1,0.9],[9.4,1.7],[9.9,1.1],[10.3,1.9],[10.6,0.6],[11.0,2.2],[11.3,0.4],[11.7,1.5],[12.0,0.9],[12.4,1.9],[12.7,1.1],[13.0,0.3],[13.4,1.4],[13.7,2.0],[14.0,0.7],[14.4,1.5],[14.9,0.6],[15.2,1.6],[15.5,0.8],[15.8,1.4],[16.3,0.9],[16.6,1.6],[17.1,1.1],[17.5,0.4],[18.1,1.2],[18.7,0.3],[19.4,1.3],[20.1,1.5],[20.8,0.9],[6.2,2.2],[7.4,2.4],[8.0,0.3],[9.2,0.5],[10.0,0.2],[11.5,0.9],[12.3,0.3],[13.2,2.3],[14.6,2.4],[16.1,2.6],[17.3,1.9],[18.4,2.4],[10.5,2.4],
[5.3,0.8],[6.0,0.7],[6.8,1.3],[7.4,1.6],[7.9,0.6],[8.4,1.0],[8.8,1.3],[9.2,0.6],[9.6,1.5],[10.0,0.8],[10.3,1.3],[10.7,0.4],[11.0,0.7],[11.4,1.2],[11.8,0.7],[12.1,1.2],[12.5,0.5],[12.8,1.6],[13.2,0.6],[13.5,0.9],[13.9,1.2],[14.3,0.5],[14.7,1.0],[15.1,1.4],[15.5,0.4],[15.9,1.1],[16.4,1.2],[16.8,0.8],[17.3,1.4],[17.8,0.9],[18.5,1.1],[19.2,0.6],[19.9,0.8],[8.1,1.9],[9.5,2.1],[11.2,1.8],[12.9,1.7],[14.6,1.9],[16.6,1.9],[18.8,1.7],[9.8,0.1],[11.9,0.1],[13.6,0.2],[15.3,0.2],[17.2,0.2]];

const pointsK=[[9.5,6.14],[18.4,4.54],[4.7,3.6],[15.9,3.45],[12.4,3.0],[9.5,2.94],[3.0,1.88],[8.2,2.58],[8.5,2.58],[8.1,2.52],[10.6,2.58],[13.1,2.37],[11.1,2.37],[9.2,2.3],[11.9,2.3],[7.7,2.17],[17.8,2.2],[19.8,2.2],[19.2,2.1],[5.9,2.1],[20.3,1.64],[4.2,0.2],[15.3,1.92],[15.4,2.0],[14.1,1.92],[9.7,1.9],[10.4,1.95],[6.2,1.92],[6.65,1.78],[7.0,1.7],[12.8,1.78],[4.75,1.2],[21.1,0.36],[21.4,0.88],
[3.6,0.9],[4.4,0.7],[4.8,0.5],[5.1,1.0],[5.3,0.3],[5.6,0.8],[5.8,1.3],[6.0,0.5],[6.2,0.15],[6.4,0.9],[6.6,0.4],[6.8,1.2],[6.9,0.7],[7.1,0.2],[7.3,1.1],[7.4,0.5],[7.6,1.5],[7.8,0.8],[7.9,0.3],[8.1,1.0],[8.3,0.6],[8.4,1.4],[8.6,0.2],[8.7,0.9],[8.9,0.45],[9.0,1.2],[9.2,0.7],[9.3,0.1],[9.5,1.0],[9.6,0.4],[9.8,1.5],[9.9,0.8],[10.1,0.25],[10.2,1.1],[10.4,0.55],[10.5,0.9],[10.7,0.15],[10.8,1.3],[11.0,0.6],[11.1,0.35],[11.3,1.0],[11.4,0.75],[11.6,0.2],[11.7,1.2],[11.9,0.5],[12.0,0.9],[12.2,0.3],[12.3,1.5],[12.5,0.65],[12.6,0.1],[12.8,1.0],[12.9,0.45],[13.1,0.8],[13.2,1.3],[13.4,0.25],[13.5,0.6],[13.7,1.1],[13.8,0.4],[14.0,1.5],[14.1,0.8],[14.3,0.2],[14.4,1.0],[14.6,0.55],[14.7,1.3],[14.9,0.35],[15.0,0.9],[15.2,0.15],[15.3,1.2],[15.5,0.6],[15.6,0.3],[15.8,1.0],[16.0,0.5],[16.1,1.4],[16.3,0.2],[16.5,0.8],[16.6,1.2],[16.8,0.4],[17.0,0.7],[17.2,0.1],[17.3,1.1],[17.5,0.5],[17.7,0.9],[17.9,0.3],[18.1,1.3],[18.4,0.6],[18.7,0.2],[19.0,0.9],[19.3,0.4],[19.6,1.0],[19.9,0.6],[20.3,0.2],[20.7,0.8],[9.4,0.55],[10.0,0.3],[10.9,0.45],[11.5,0.55],[12.1,0.35],[12.7,0.3],[13.3,0.5],[8.8,0.3],[11.2,0.8],[13.6,0.15],
[5.5,0.6],[6.1,1.0],[6.7,0.6],[7.2,0.9],[7.7,0.35],[8.2,0.75],[8.5,1.1],[8.8,0.6],[9.1,0.25],[9.4,0.8],[9.7,1.2],[10.0,0.65],[10.3,0.4],[10.6,1.0],[10.9,0.25],[11.2,0.6],[11.5,1.1],[11.8,0.35],[12.1,0.7],[12.4,1.1],[12.7,0.5],[13.0,0.2],[13.3,0.95],[13.6,0.65],[13.9,0.3],[14.2,1.2],[14.5,0.4],[14.8,0.75],[15.1,0.5],[15.4,1.5],[15.7,0.8],[16.2,0.65],[16.7,1.0],[17.1,0.45],[17.6,1.2],[18.0,0.6],[18.6,0.8],[19.2,0.3],[19.8,0.5],[20.5,0.6],[6.5,1.4],[7.5,1.3],[9.1,1.5],[10.7,1.6],[11.6,1.5],[13.0,1.6],[14.4,1.6],[15.0,1.45],[16.4,1.7],[12.3,1.8],
[5.9,0.45],[6.6,0.85],[7.0,0.45],[7.5,0.7],[8.0,0.5],[8.4,0.35],[8.9,0.9],[9.2,0.45],[9.6,0.6],[9.9,1.05],[10.2,0.5],[10.5,0.75],[10.8,0.55],[11.1,1.0],[11.4,0.4],[11.7,0.65],[12.0,0.2],[12.3,0.55],[12.6,0.85],[12.9,0.65],[13.2,0.4],[13.5,0.85],[13.8,0.55],[14.2,0.7],[14.5,0.9],[14.9,0.55],[15.3,0.75],[15.7,0.5],[16.1,0.9],[16.6,0.5],[17.0,1.0],[17.6,0.7],[18.2,0.45],[18.9,0.5],[19.6,0.75],[7.3,1.5],[8.6,1.6],[10.1,1.4],[11.9,1.3],[13.5,1.4],[14.9,1.2],[16.9,1.4],[10.3,0.1],[12.3,0.1],[14.7,0.15]];

const pointsL=[[8.0,15.9],[18.2,11.9],[15.8,10.5],[13.0,9.95],[20.2,7.7],[7.6,8.0],[10.5,8.3],[9.4,7.45],[9.6,7.9],[10.1,7.7],[7.0,7.2],[6.3,6.9],[6.1,6.8],[3.0,6.7],[8.3,6.4],[11.0,7.3],[11.5,6.85],[14.5,7.5],[15.8,6.1],[14.1,6.0],[4.5,5.6],[5.9,5.65],[7.1,5.8],[4.2,1.4],[4.5,1.55],[5.5,0.8],[6.9,0.3],[9.0,0.1],[10.9,0.8],[14.8,0.3],[16.6,0.3],[16.5,0.65],[17.3,0.3],[19.2,1.0],[20.1,0.9],[21.1,2.0],[21.4,2.1],[20.4,3.1],[19.6,4.3],[18.9,4.0],[18.4,4.15],[17.5,4.3],[16.9,4.3],
[3.8,2.9],[4.6,3.3],[4.9,2.4],[5.2,3.0],[5.4,2.0],[5.7,3.7],[5.9,2.6],[6.1,1.6],[6.3,3.2],[6.5,4.5],[6.7,2.2],[6.9,3.0],[7.0,1.3],[7.2,4.0],[7.4,2.7],[7.5,1.9],[7.7,3.5],[7.8,4.8],[8.0,2.4],[8.2,1.1],[8.3,3.1],[8.5,2.0],[8.6,4.3],[8.8,2.8],[8.9,1.5],[9.1,3.6],[9.2,2.3],[9.4,0.9],[9.5,3.2],[9.7,4.6],[9.8,1.8],[10.0,2.7],[10.1,3.9],[10.3,1.2],[10.4,2.4],[10.6,3.4],[10.7,5.0],[10.9,2.0],[11.0,2.9],[11.2,1.4],[11.3,3.8],[11.5,2.5],[11.6,4.4],[11.8,1.7],[11.9,3.1],[12.1,2.2],[12.2,4.8],[12.4,1.0],[12.5,2.8],[12.7,3.6],[12.8,1.9],[13.0,2.6],[13.1,4.2],[13.3,1.3],[13.4,3.3],[13.6,2.3],[13.7,5.2],[13.9,1.6],[14.0,2.9],[14.2,3.9],[14.3,1.1],[14.5,2.5],[14.6,4.5],[14.8,1.8],[14.9,3.2],[15.1,2.1],[15.2,4.0],[15.4,1.4],[15.5,2.8],[15.7,3.6],[15.9,1.0],[16.0,2.4],[16.2,4.4],[16.3,1.7],[16.5,3.1],[16.7,2.0],[16.8,1.2],[17.0,3.4],[17.2,2.6],[17.3,1.5],[17.5,2.9],[17.7,1.0],[17.9,3.7],[18.1,2.2],[18.4,1.4],[18.7,2.9],[19.0,1.8],[19.3,3.3],[19.6,2.3],[20.0,2.7],[20.6,2.1],[9.3,2.0],[10.2,2.2],[11.1,1.9],[12.0,2.6],[12.9,2.1],[13.8,2.4],[9.9,1.6],[10.8,2.6],[11.7,2.0],[12.6,1.5],
[5.0,2.2],[5.6,2.9],[6.2,2.4],[6.8,3.6],[7.3,2.2],[7.9,3.0],[8.4,2.6],[8.7,3.5],[9.0,2.0],[9.4,2.8],[9.6,1.4],[9.9,3.4],[10.2,2.0],[10.5,3.0],[10.8,1.5],[11.1,3.3],[11.4,2.2],[11.7,2.9],[12.0,1.7],[12.3,3.3],[12.6,2.4],[12.9,3.0],[13.2,1.9],[13.5,2.7],[13.8,3.6],[14.1,2.1],[14.4,3.4],[14.7,2.2],[15.0,2.7],[15.3,3.3],[15.6,1.9],[16.1,3.0],[16.4,2.2],[16.9,2.6],[17.4,2.0],[17.8,2.6],[18.3,3.3],[18.9,2.4],[19.4,1.5],[20.3,2.0],[7.5,4.5],[8.1,4.1],[9.0,4.0],[10.4,4.7],[11.8,4.1],[12.9,4.6],[13.5,4.0],[15.0,4.6],[16.6,4.1],[9.8,5.5],[11.3,5.7],[12.4,5.9],[14.3,5.3],
[5.3,2.6],[6.0,3.3],[6.6,2.7],[7.1,3.2],[7.6,2.5],[8.1,3.3],[8.5,1.6],[8.9,3.0],[9.3,2.6],[9.7,2.0],[10.0,3.1],[10.3,2.6],[10.7,2.3],[11.0,3.6],[11.4,2.7],[11.8,2.4],[12.1,3.5],[12.5,1.8],[12.9,2.8],[13.2,3.4],[13.6,1.9],[14.0,2.4],[14.4,2.9],[14.8,2.5],[15.2,3.0],[15.6,2.4],[16.0,3.4],[16.5,2.6],[17.0,1.9],[17.6,3.1],[18.2,2.7],[18.8,2.1],[19.5,2.8],[6.4,4.0],[8.0,3.8],[9.5,3.9],[11.0,4.3],[12.6,4.2],[14.1,4.6],[15.5,4.1],[9.8,1.1],[11.5,1.1],[13.1,0.9],[14.5,1.4],[16.0,1.3],[17.9,1.6],[8.7,0.6],[12.3,0.5]];

const panelPoints=[pointsA,pointsB,pointsC,pointsD,pointsE,pointsF,pointsG,pointsH,pointsI,pointsJ,pointsK,pointsL];

// ---------- layout ----------
const colX=[0,215.5,433.5];
const rowTop=[17,240.5,479,703];
const rowBottom=[178,423,639,864];
const tagX=[4,227,448];
const TICK_FS=9, YT_FS=11.5, XT_FS=10;

const svg=d3.select("body").append("svg").attr("width",653).attr("height",904);
const allX=panelPoints.flat().map(d=>d[0]);
const xExt=d3.extent(allX);
const xPad=(xExt[1]-xExt[0])*0.05;
const xDom=[xExt[0]-xPad,xExt[1]+xPad];
const fmt=d3.format("~g");

function textW(str,size){
  const t=svg.append("text").attr("font-size",size).text(str);
  const w=t.node().getComputedTextLength(); t.remove(); return w;
}

panelPoints.forEach((pts,i)=>{
  const col=i%3,row=Math.floor(i/3);
  const ticks=yTicks[i];
  const maxW=d3.max(ticks,t=>textW(fmt(t),TICK_FS));
  const left=colX[col]+18+maxW+5, right=colX[col]+212;
  const top=rowTop[row], bottom=rowBottom[row];
  const yExt=d3.extent(pts,d=>d[1]);
  const yPad=(yExt[1]-yExt[0])*0.05;
  const x=d3.scaleLinear().domain(xDom).range([left,right]);
  const y=d3.scaleLinear().domain([yExt[0]-yPad,yExt[1]+yPad]).range([bottom,top]);
  const g=svg.append("g");
  g.append("rect").attr("x",left).attr("y",top).attr("width",right-left).attr("height",bottom-top).attr("fill","#EBEBEB");
  const xStep=xTicks[1]-xTicks[0];
  const xMinor=d3.range(xTicks[0]-xStep/2,xTicks[xTicks.length-1]+xStep,xStep).filter(v=>v>=xDom[0]&&v<=xDom[1]);
  const yStep=ticks[1]-ticks[0];
  const yMinor=d3.range(ticks[0]-yStep/2,ticks[ticks.length-1]+yStep,yStep).filter(v=>v>=y.domain()[0]&&v<=y.domain()[1]);
  g.selectAll(".xm").data(xMinor).enter().append("line").attr("x1",d=>x(d)).attr("x2",d=>x(d)).attr("y1",top).attr("y2",bottom).attr("stroke","#fff").attr("stroke-width",0.55);
  g.selectAll(".ym").data(yMinor).enter().append("line").attr("y1",d=>y(d)).attr("y2",d=>y(d)).attr("x1",left).attr("x2",right).attr("stroke","#fff").attr("stroke-width",0.55);
  g.selectAll(".xM").data(xTicks).enter().append("line").attr("x1",d=>x(d)).attr("x2",d=>x(d)).attr("y1",top).attr("y2",bottom).attr("stroke","#fff").attr("stroke-width",1.1);
  g.selectAll(".yM").data(ticks.filter(v=>v>=y.domain()[0]&&v<=y.domain()[1])).enter().append("line").attr("y1",d=>y(d)).attr("y2",d=>y(d)).attr("x1",left).attr("x2",right).attr("stroke","#fff").attr("stroke-width",1.1);
  const cid="clip"+i;
  svg.append("clipPath").attr("id",cid).append("rect").attr("x",left).attr("y",top).attr("width",right-left).attr("height",bottom-top);
  const pg=g.append("g").attr("clip-path",`url(#${cid})`);
  pg.selectAll("circle").data(pts).enter().append("circle").attr("cx",d=>x(d[0])).attr("cy",d=>y(d[1])).attr("r",2.25).attr("fill","#6C7B8B");
  const px=pts.map(d=>d[0]);
  const x0=d3.min(px),x1=d3.max(px),xc=d3.mean(px);
  const fy=v=>fitY0[i]+(fitY1[i]-fitY0[i])*(v-x0)/(x1-x0);
  const k=(bandEnd[i]*bandEnd[i]-bandMid[i]*bandMid[i])/Math.pow(Math.max(x1-xc,xc-x0),2);
  const hw=v=>Math.sqrt(bandMid[i]*bandMid[i]+k*(v-xc)*(v-xc));
  const xs=d3.range(0,81).map(j=>x0+(x1-x0)*j/80);
  pg.append("path").datum(xs).attr("d",d3.area().x(v=>x(v)).y0(v=>y(fy(v)-hw(v))).y1(v=>y(fy(v)+hw(v)))).attr("fill","#999999").attr("fill-opacity",0.4);
  pg.append("path").datum([x0,x1]).attr("d",d3.line().x(v=>x(v)).y(v=>y(fy(v)))).attr("stroke","#333333").attr("stroke-width",1.3).attr("fill","none");
  const ay=g.append("g").attr("transform",`translate(${left},0)`).call(d3.axisLeft(y).tickValues(ticks).tickFormat(fmt).tickSize(2.75).tickPadding(1.6).tickSizeOuter(0));
  const ax=g.append("g").attr("transform",`translate(0,${bottom})`).call(d3.axisBottom(x).tickValues(xTicks).tickFormat(fmt).tickSize(2.75).tickPadding(1.6).tickSizeOuter(0));
  [ax,ay].forEach(a=>{a.select(".domain").remove();a.selectAll("line").attr("stroke","#333333").attr("stroke-width",1.1);a.selectAll("text").attr("fill","#4D4D4D").attr("font-size",TICK_FS).attr("font-family",'"Liberation Sans",Arial,sans-serif');});
  const tl=left-maxW-4.4;
  g.append("text").attr("transform",`translate(${tl-8.5},${(top+bottom)/2}) rotate(-90)`).attr("text-anchor","middle").attr("dy","0.35em").attr("font-size",YT_FS).attr("fill","#000").text(yTitles[i]);
  g.append("text").attr("x",(left+right)/2).attr("y",bottom+22.5).attr("text-anchor","middle").attr("font-size",XT_FS).attr("fill","#000").text(statLabels[i]);
  g.append("text").attr("x",(left+right)/2).attr("y",bottom+36).attr("text-anchor","middle").attr("font-size",XT_FS).attr("fill","#000").text(xTitle);
  g.append("text").attr("x",tagX[col]).attr("y",top-3.5).attr("font-size",14.5).attr("fill","#000").text(panelTags[i]);
});
</script>
</body></html>
